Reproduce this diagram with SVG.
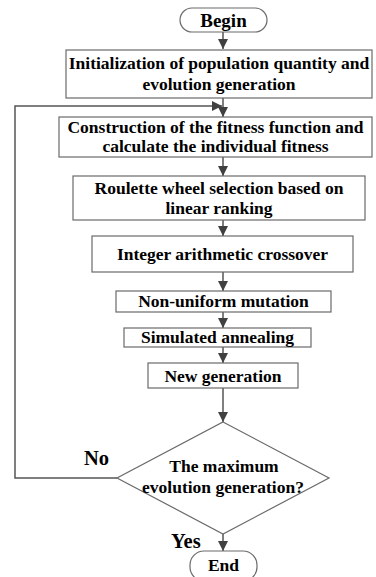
<svg xmlns="http://www.w3.org/2000/svg" width="376" height="577" viewBox="0 0 376 577">
<style>
.box{fill:#fff;stroke:#6a6a6a;stroke-width:1.2}
.t{font-family:"Liberation Serif","Times New Roman",serif;font-weight:bold;font-size:17.5px;fill:#000;text-anchor:middle}
.big{font-size:19px}
.lbl{font-family:"Liberation Serif","Times New Roman",serif;font-weight:bold;font-size:20.5px;fill:#000}
.c{fill:none;stroke:#555;stroke-width:1.5}
</style>
<defs>
<marker id="ah" markerWidth="10" markerHeight="10" viewBox="0 0 10 10" refX="10" refY="5" orient="auto" markerUnits="userSpaceOnUse">
<path d="M0,0 L10,5 L0,10 Z" fill="#404040"/>
</marker>
</defs>
<rect width="376" height="577" fill="#fff"/>
<g id="connectors">
<line class="c" x1="223" y1="32" x2="223" y2="49" marker-end="url(#ah)"/>
<line class="c" x1="223" y1="98" x2="223" y2="117" marker-end="url(#ah)"/>
<polyline class="c" points="117,478 15,478 15,106 222,106" marker-end="url(#ah)"/>
<line class="c" x1="223" y1="157" x2="223" y2="176" marker-end="url(#ah)"/>
<line class="c" x1="223" y1="220" x2="223" y2="236" marker-end="url(#ah)"/>
<line class="c" x1="223" y1="272" x2="223" y2="291" marker-end="url(#ah)"/>
<line class="c" x1="223" y1="312" x2="223" y2="328" marker-end="url(#ah)"/>
<line class="c" x1="223" y1="347" x2="223" y2="363" marker-end="url(#ah)"/>
<line class="c" x1="223" y1="388" x2="223" y2="422" marker-end="url(#ah)"/>
<line class="c" x1="223" y1="534" x2="223" y2="551" marker-end="url(#ah)"/>
<text class="lbl" x="84" y="465">No</text>
<text class="lbl" x="171" y="548">Yes</text>
</g>
<g id="begin">
<rect class="box" x="180" y="8" width="87" height="24" rx="12"/>
<text class="t big" x="223.5" y="27">Begin</text>
</g>
<g id="init">
<rect class="box" x="66" y="50" width="306" height="48"/>
<text class="t" x="219" y="69">Initialization of population quantity and</text>
<text class="t" x="219" y="90">evolution generation</text>
</g>
<g id="fitness">
<rect class="box" x="59" y="117" width="313" height="40"/>
<text class="t" x="215.5" y="133">Construction of the fitness function and</text>
<text class="t" x="215.5" y="152">calculate the individual fitness</text>
</g>
<g id="selection">
<rect class="box" x="73" y="176" width="292" height="44"/>
<text class="t" x="219" y="194">Roulette wheel selection based on</text>
<text class="t" x="219" y="214">linear ranking</text>
</g>
<g id="crossover">
<rect class="box" x="92" y="236" width="261" height="36"/>
<text class="t" x="222.5" y="260">Integer arithmetic crossover</text>
</g>
<g id="mutation">
<rect class="box" x="116" y="291" width="215" height="21"/>
<text class="t" x="223.5" y="307">Non-uniform mutation</text>
</g>
<g id="annealing">
<rect class="box" x="124" y="328" width="187" height="19"/>
<text class="t" x="217.5" y="343">Simulated annealing</text>
</g>
<g id="newgen">
<rect class="box" x="148" y="363" width="150" height="25"/>
<text class="t" x="223" y="382">New generation</text>
</g>
<g id="decision">
<polygon class="box" points="223,422 329,478 223,534 117,478"/>
<text class="t" x="224" y="472">The maximum</text>
<text class="t" x="223" y="493">evolution generation?</text>
</g>
<g id="end">
<rect class="box" x="190" y="551" width="67" height="30" rx="14"/>
<text class="t" x="223.5" y="571">End</text>
</g>
</svg>
